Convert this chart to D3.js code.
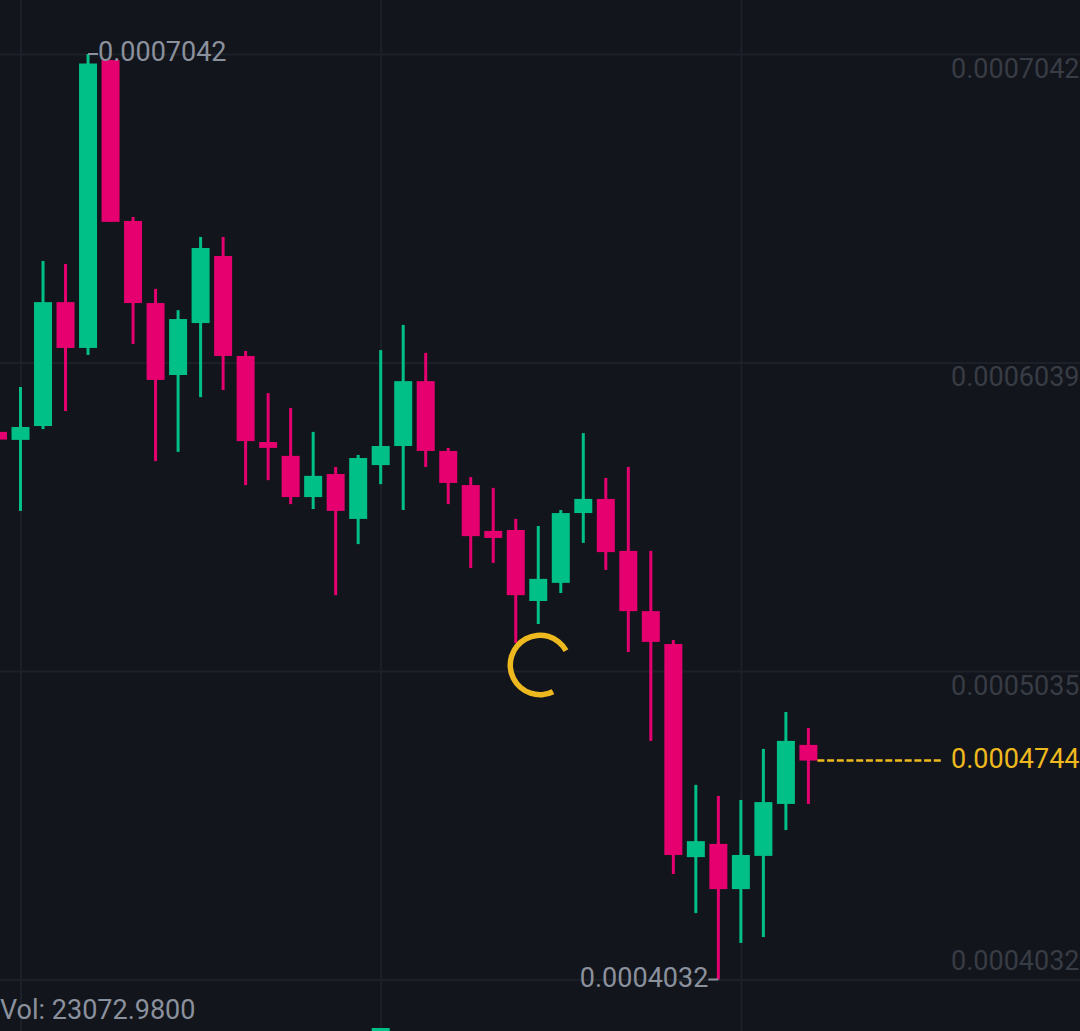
<!DOCTYPE html>
<html>
<head>
<meta charset="utf-8">
<script src="https://cdn.jsdelivr.net/npm/d3@7"></script>
<style>
  html, body { margin: 0; padding: 0; background: #12151c; overflow: hidden; }
  text { font-family: Roboto, sans-serif; }
</style>
</head>
<body>
<div id="chart"></div>
<script>
// prices are in units of 0.0000001
const opens = [5813, 5787, 5832, 6235, 6086, 7022, 6499, 6232, 5998, 6167, 6385, 6060, 5780, 5735, 5601, 5676, 5530, 5705, 5767, 5978, 5751, 5640, 5491, 5494, 5263, 5322, 5549, 5595, 5426, 5230, 5123, 4430, 4473, 4326, 4434, 4603, 4795];
const closes = [5788, 5829, 6235, 6086, 7011, 6496, 6232, 5982, 6180, 6411, 6060, 5783, 5761, 5601, 5670, 5556, 5728, 5767, 5978, 5751, 5647, 5474, 5468, 5282, 5335, 5549, 5595, 5422, 5230, 5130, 4437, 4482, 4326, 4437, 4609, 4808, 4744];
const highs = [5813, 5959, 6369, 6359, 7042, 7022, 6512, 6278, 6209, 6447, 6447, 6076, 5939, 5891, 5813, 5699, 5738, 6079, 6161, 6070, 5761, 5666, 5631, 5530, 5507, 5559, 5809, 5663, 5699, 5426, 5136, 4665, 4629, 4616, 4782, 4902, 4850];
const lows = [5788, 5556, 5822, 5881, 6063, 6496, 6099, 5718, 5748, 5926, 5949, 5640, 5656, 5578, 5562, 5282, 5448, 5643, 5559, 5699, 5578, 5370, 5387, 5126, 5188, 5289, 5452, 5364, 5097, 4808, 4375, 4248, 4032, 4151, 4170, 4518, 4603];
const priceTicks = [7042, 6039, 5035, 4032];
const timeTicks = [1, 17, 33];
const maxPrice = 7042;
const minPrice = 4032;
const lastPrice = 4744;
const volumeLabel = "Vol: 23072.9800";
// the only volume bar that shows at the bottom edge
const volumeIndex = [17];
const volumeValues = [300];

const theme = {
  bg: "#12151c",
  grid: "#1c2028",
  up: "#00c087",
  down: "#e6006f",
  axisText: "#383c45",
  label: "#8b919c",
  last: "#eeb91e",
};

const width = 1080;
const height = 1031;
const fontSize = 27;
const candles = opens.map((o, i) => ({ i, o, c: closes[i], h: highs[i], l: lows[i] }));
const fmt = (v) => d3.format(".7f")(v / 1e7);
const colorOf = (d) => (d.c >= d.o ? theme.up : theme.down);

const svg = d3
  .select("#chart")
  .append("svg")
  .attr("width", width)
  .attr("height", height)
  .style("display", "block")
  .style("background", theme.bg);

const xScale = d3.scaleLinear().domain([0, 36]).range([-2, 808.4]);
const yScale = d3.scaleLinear().domain([minPrice, maxPrice]).range([979.5, 54]);
const volScale = d3.scaleLinear().domain([0, 1000]).range([1040, 1000]);

const bodyWidth = 18;
const wickWidth = 3;

// grid
const xAxis = svg
  .append("g")
  .call(d3.axisBottom(xScale).tickValues(timeTicks).tickSize(height).tickFormat(""));
xAxis.select(".domain").remove();
xAxis.selectAll("line").attr("stroke", theme.grid).attr("stroke-width", 2);

const yAxis = svg
  .append("g")
  .call(d3.axisRight(yScale).tickValues(priceTicks).tickSize(width).tickPadding(0).tickFormat(fmt));
yAxis.select(".domain").remove();
yAxis.selectAll("line").attr("stroke", theme.grid).attr("stroke-width", 2);
yAxis
  .selectAll("text")
  .attr("x", 1079.5)
  .attr("dy", (d) => (d === minPrice ? -17 : 16))
  .attr("dominant-baseline", "middle")
  .attr("text-anchor", "end")
  .attr("fill", theme.axisText)
  .attr("font-family", "Roboto, sans-serif")
  .attr("font-size", fontSize);

// candles
svg
  .append("g")
  .selectAll("line")
  .data(candles)
  .enter()
  .append("line")
  .attr("x1", (d) => xScale(d.i))
  .attr("x2", (d) => xScale(d.i))
  .attr("y1", (d) => yScale(d.h))
  .attr("y2", (d) => yScale(d.l))
  .attr("stroke", colorOf)
  .attr("stroke-width", wickWidth);

svg
  .append("g")
  .selectAll("rect")
  .data(candles)
  .enter()
  .append("rect")
  .attr("x", (d) => xScale(d.i) - bodyWidth / 2)
  .attr("width", bodyWidth)
  .attr("y", (d) => yScale(Math.max(d.o, d.c)))
  .attr("height", (d) => Math.abs(yScale(d.o) - yScale(d.c)))
  .attr("fill", colorOf);

// volume
svg
  .append("g")
  .selectAll("rect")
  .data(volumeIndex)
  .enter()
  .append("rect")
  .attr("x", (d) => xScale(d) - bodyWidth / 2)
  .attr("width", bodyWidth)
  .attr("y", (d, i) => volScale(volumeValues[i]))
  .attr("height", (d, i) => volScale(0) - volScale(volumeValues[i]))
  .attr("fill", theme.up);

// high and low labels, the dash joins the label to its wick
const dashLength = 10;

svg
  .append("line")
  .attr("x1", xScale(4))
  .attr("x2", xScale(4) + dashLength)
  .attr("y1", yScale(maxPrice))
  .attr("y2", yScale(maxPrice))
  .attr("stroke", theme.label)
  .attr("stroke-width", 2);

svg
  .append("text")
  .attr("x", xScale(4) + dashLength)
  .attr("y", yScale(maxPrice))
  .attr("dominant-baseline", "middle")
  .attr("fill", theme.label)
  .attr("font-size", fontSize)
  .text(fmt(maxPrice));

svg
  .append("line")
  .attr("x1", xScale(32))
  .attr("x2", xScale(32) - dashLength)
  .attr("y1", yScale(minPrice))
  .attr("y2", yScale(minPrice))
  .attr("stroke", theme.label)
  .attr("stroke-width", 2);

svg
  .append("text")
  .attr("x", xScale(32) - dashLength)
  .attr("y", yScale(minPrice))
  .attr("dominant-baseline", "middle")
  .attr("text-anchor", "end")
  .attr("fill", theme.label)
  .attr("font-size", fontSize)
  .text(fmt(minPrice));

// last price
svg
  .append("line")
  .attr("x1", xScale(36) + bodyWidth / 2)
  .attr("x2", 941)
  .attr("y1", yScale(lastPrice))
  .attr("y2", yScale(lastPrice))
  .attr("stroke", theme.last)
  .attr("stroke-width", 2.5)
  .attr("stroke-dasharray", "7 2.7");

svg
  .append("text")
  .attr("x", 1079.5)
  .attr("y", yScale(lastPrice))
  .attr("dominant-baseline", "middle")
  .attr("text-anchor", "end")
  .attr("fill", theme.last)
  .attr("font-size", fontSize)
  .text(fmt(lastPrice));

svg
  .append("text")
  .attr("x", 0)
  .attr("y", 1012)
  .attr("dominant-baseline", "middle")
  .attr("fill", theme.label)
  .attr("font-size", fontSize)
  .text(volumeLabel);

// loading spinner
svg
  .append("path")
  .attr("transform", "translate(540, 665)")
  .attr(
    "d",
    d3.arc()({
      innerRadius: 27,
      outerRadius: 32.5,
      startAngle: (154 * Math.PI) / 180,
      endAngle: (421 * Math.PI) / 180,
    })
  )
  .attr("fill", theme.last);
</script>
</body>
</html>
